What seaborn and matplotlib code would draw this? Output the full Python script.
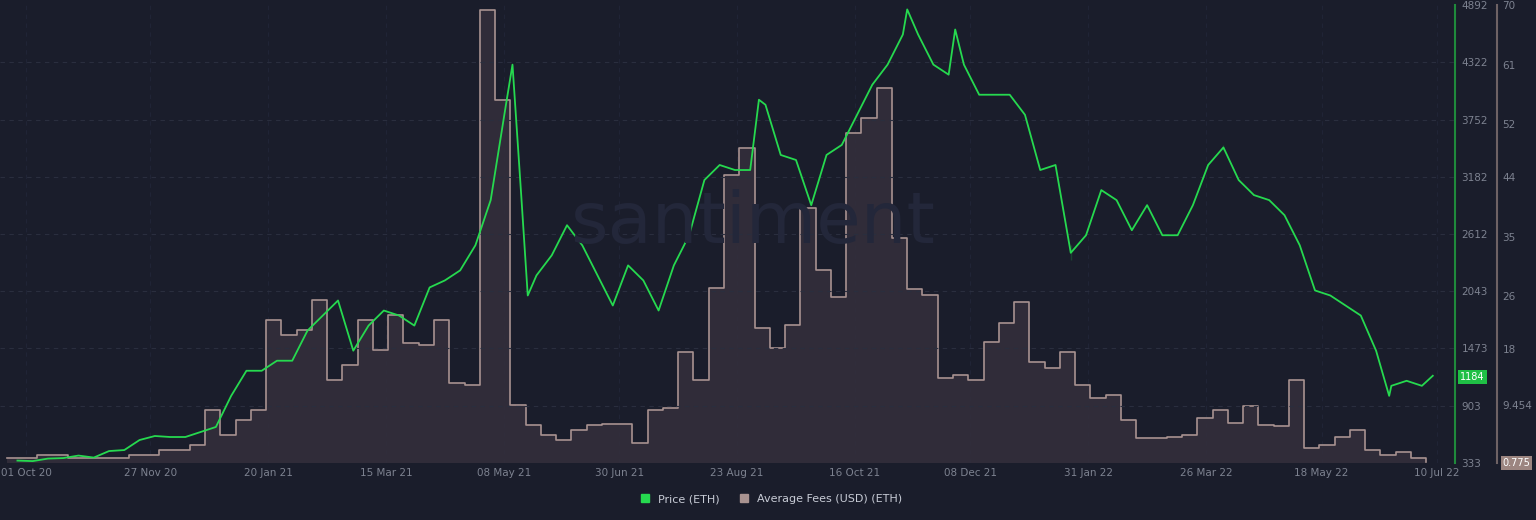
import matplotlib
matplotlib.use("Agg")
import matplotlib.pyplot as plt
import matplotlib.dates as mdates
import seaborn as sns
import pandas as pd

# weekly ETH price (USD) plus a few intra-week highs/lows
price_dates = list(pd.date_range("2020-09-27", "2022-07-03", freq="7D")) + [
    "2021-05-12", "2021-05-19", "2021-09-02", "2021-11-09", "2021-12-01",
    "2022-01-23", "2022-04-03", "2022-06-18", "2022-07-08"]
price_values = [
    355, 350, 375, 380, 405, 385, 450, 460, 560, 600, 590, 590, 640, 690,
    1000, 1250, 1250, 1350, 1350, 1650, 1800, 1950, 1450, 1700, 1850, 1800, 1700, 2080,
    2150, 2250, 2500, 2950, 3900, 3000, 2200, 2400, 2700, 2500, 2200, 1900, 2300, 2150,
    1850, 2300, 2600, 3150, 3300, 3250, 3250, 3900, 3400, 3350, 2900, 3400, 3500, 3800,
    4100, 4300, 4600, 4600, 4300, 4200, 4300, 4000, 4000, 4000, 3800, 3250, 3300, 2500,
    2600, 3050, 2950, 2650, 2900, 2600, 2600, 2900, 3300, 3450, 3150, 3000, 2950, 2800,
    2500, 2050, 2000, 1900, 1800, 1450, 1100, 1150, 1100,
    4300, 2000, 3950, 4850, 4650, 2350, 3500, 1000, 1200,
]

# weekly average fees (USD)
fee_values = [
    1.5, 1.5, 2.0,
    2.0, 1.5, 1.5, 1.5, 1.5, 2.0, 2.0, 2.7, 2.7, 3.5, 8.8, 5.0, 7.3, 8.8,
    22.4, 20.1, 20.9, 25.4, 13.3, 15.6, 22.4, 17.8, 23.1, 18.9, 18.6, 22.4, 12.9, 12.6,
    69.2, 55.6, 9.5, 6.5, 5.0, 4.2, 5.8, 6.5, 6.7, 6.7, 3.8, 8.8, 9.1, 17.5,
    13.3, 27.2, 44.3, 48.4, 21.2, 18.1, 21.6, 39.3, 30.0, 25.8, 50.6, 52.9, 57.4, 34.8,
    27.0, 26.1, 13.6, 14.1, 13.3, 19.0, 21.9, 25.1, 16.0, 15.1, 17.5, 12.6, 10.6, 11.0,
    7.3, 4.6, 4.6, 4.7, 5.0, 7.6, 8.8, 6.8, 9.4, 6.5, 6.4, 13.3, 3.0, 3.5, 4.7,
    5.8, 2.7, 2.0, 2.4, 1.5, 0.9,
]
fee_dates = pd.date_range("2020-09-22", periods=len(fee_values), freq="7D")

date_ticks = ["2020-10-01", "2020-11-27", "2021-01-20", "2021-03-15", "2021-05-08", "2021-06-30",
              "2021-08-23", "2021-10-16", "2021-12-08", "2022-01-31", "2022-03-26", "2022-05-18", "2022-07-10"]
price_ticks = [333, 903, 1473, 2043, 2612, 3182, 3752, 4322, 4892]
fee_ticks = [0.775, 9.454, 18, 26, 35, 44, 52, 61, 70]

bg = "#1a1d2b"
green = "#26d94f"
fee_col = "#a89290"
txt = "#7d8290"

price_df = pd.DataFrame({"date": pd.to_datetime(price_dates), "price": price_values}).sort_values("date")
fee_df = pd.DataFrame({"date": fee_dates, "fee": fee_values})

fig = plt.figure(figsize=(15.36, 5.2), dpi=100, facecolor=bg)
ax2 = fig.add_axes([0.0, 0.11, 0.947, 0.88])
ax = ax2.twinx()
ax2.set_facecolor(bg)

ax2.fill_between(fee_df["date"], fee_df["fee"], 0.775, step="post", color="#342f3c", alpha=0.85, lw=0)
sns.lineplot(data=fee_df, x="date", y="fee", ax=ax2, color=fee_col, lw=1.2, drawstyle="steps-post")
sns.lineplot(data=price_df, x="date", y="price", ax=ax, color=green, lw=1.3)

ax2.set_xlim(pd.Timestamp("2020-09-19"), pd.Timestamp("2022-07-18"))
ax2.set_ylim(0.775, 70)
ax.set_ylim(333, 4892)

ax2.set_xticks(pd.to_datetime(date_ticks))
ax2.xaxis.set_major_formatter(mdates.DateFormatter("%d %b %y"))
ax2.tick_params(axis="x", colors=txt, labelsize=7.5, length=0, pad=4)
ax2.set_xlabel("")
ax2.set_ylabel("")
ax.set_ylabel("")

ax.set_yticks(price_ticks)
ax.set_yticklabels([str(t) for t in price_ticks])
ax.tick_params(axis="y", colors=txt, labelsize=7.5, length=0, pad=5)
ax2.yaxis.tick_right()
ax2.set_yticks(fee_ticks)
ax2.set_yticklabels(["", "9.454", "18", "26", "35", "44", "52", "61", "70"])
ax2.tick_params(axis="y", colors=txt, labelsize=7.5, length=0, pad=4)

for a in (ax, ax2):
    for s in ("top", "left", "bottom"):
        a.spines[s].set_visible(False)
ax.spines["right"].set_color("#1f8a3c")
ax.spines["right"].set_linewidth(1.5)
ax2.spines["right"].set_position(("axes", 1.029))
ax2.spines["right"].set_color("#6e6264")
ax2.spines["right"].set_linewidth(1.5)

ax.grid(False)
ax2.grid(False)
for t in price_ticks[1:-1]:
    ax.axhline(t, color="#2a2e3e", lw=0.8, ls=(0, (4, 4)), zorder=0)
for d in pd.to_datetime(date_ticks):
    ax2.axvline(d, color="#202436", lw=0.8, ls=(0, (4, 4)), zorder=0)

ax.text(1.004, (1184 - 333) / (4892 - 333), "1184", transform=ax.transAxes, color="white",
        fontsize=7, va="center", ha="left", bbox=dict(boxstyle="square,pad=0.2", fc="#1fbf45", ec="none"))
ax2.text(1.033, 0.0, "0.775", transform=ax2.transAxes, color="white", fontsize=7, va="center",
         ha="left", bbox=dict(boxstyle="square,pad=0.2", fc="#9c8580", ec="none"))

fig.text(0.49, 0.57, "santiment", color="#23273a", fontsize=52, ha="center", va="center", zorder=0)

fig.legend(handles=[plt.Line2D([], [], marker="s", ls="", color=green, ms=6),
                    plt.Line2D([], [], marker="s", ls="", color=fee_col, ms=6)],
           labels=["Price (ETH)", "Average Fees (USD) (ETH)"], loc="center", bbox_to_anchor=(0.5, 0.04),
           ncol=2, frameon=False, labelcolor="#c8ccd6", fontsize=8, handletextpad=0.2, columnspacing=1.2)

fig.savefig("out.png", facecolor=bg)
